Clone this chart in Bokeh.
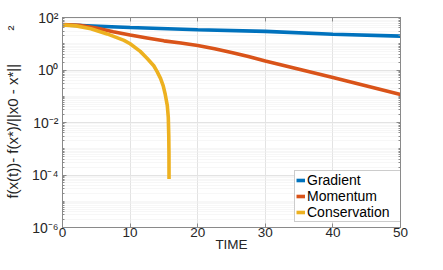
import math
from bokeh.plotting import figure
from bokeh.models import (FixedTicker, LinearAxis, LogAxis, CustomJSTickFormatter,
                          Legend, LegendItem)
from bokeh.embed import file_html
from bokeh.resources import INLINE

# ---- data ----
t_grad = [0, 10, 20, 30, 40, 50]
v_grad = [52.5, 41.7, 34.3, 29.5, 23.1, 19.5]

t_mom = [0, 2.5, 5, 7.5, 10, 12.5, 15, 17.5, 20, 22.5, 25, 27.5, 30, 35, 40, 45, 50]
v_mom = [53.7, 50.1, 39.8, 28.8, 21.4, 16.6, 12.9, 10.7, 8.51, 6.46, 4.68, 3.24,
         2.21, 1.07, 0.513, 0.245, 0.117]

t_con = [0, 2, 4.2, 6.6, 9.1, 10, 11.5, 12.5, 13.5, 14, 14.5, 14.9, 15.2, 15.5, 15.65,
         15.72, 15.75, 15.76]
v_con = [52.5, 47.9, 37.2, 23.7, 13.5, 10.0, 5.13, 2.82, 1.45, 0.87, 0.479, 0.25, 0.117,
         0.0447, 0.0158, 0.00316, 0.00063, 7.1e-5]

series_names = ["Gradient", "Momentum", "Conservation"]
series_colors = ["#0072BD", "#D95319", "#EDB120"]

x_ticks = [0, 10, 20, 30, 40, 50]
y_ticks = [1e-6, 1e-4, 1e-2, 1e0, 1e2]
y_minor = [m * 10.0 ** k for k in range(-6, 2) for m in range(1, 10)] + [1e2]

x_label = "TIME"
NB = "\u00a0"
y_label = NB * 5 + "f(x(t))- f(x*)/||x0 - x*||" + NB * 8 + "\u00b2"

FONT = "Liberation Sans"
AX = "#8a8a8a"

p = figure(width=427, height=254, x_range=(0, 50), y_range=(1e-6, 1e2),
           y_axis_type="log", output_backend="svg", toolbar_location=None,
           min_border_left=60, min_border_right=27, min_border_top=17,
           min_border_bottom=20)
p.background_fill_color = "white"
p.border_fill_color = "white"
p.outline_line_color = AX
p.outline_line_width = 1

renderers = []
for t, v, c in zip([t_grad, t_mom, t_con], [v_grad, v_mom, v_con], series_colors):
    r = p.line(t, v, line_color=c, line_width=3.6)
    renderers.append(r)

# axes
p.xaxis.ticker = FixedTicker(ticks=x_ticks)
p.yaxis.ticker = FixedTicker(ticks=y_ticks, minor_ticks=y_minor)
p.yaxis.formatter = CustomJSTickFormatter(code="""
const sup = {'-':'\u207b','0':'\u2070','1':'\u00b9','2':'\u00b2','3':'\u00b3','4':'\u2074','5':'\u2075','6':'\u2076','7':'\u2077','8':'\u2078','9':'\u2079'};
const e = Math.round(Math.log10(tick)).toString();
let s = '';
for (const ch of e) s += sup[ch];
return '10' + s;
""")
for ax in [p.xaxis[0], p.yaxis[0]]:
    ax.axis_line_color = AX
    ax.major_tick_line_color = AX
    ax.minor_tick_line_color = AX
    ax.major_tick_in = 4
    ax.major_tick_out = 0
    ax.minor_tick_in = 2
    ax.minor_tick_out = 0
    ax.major_label_text_font = FONT
    ax.major_label_text_color = "#262626"
    ax.axis_label_text_font = FONT
    ax.axis_label_text_font_style = "normal"
    ax.axis_label_text_color = "#262626"
p.xaxis.major_label_text_font_size = "13.5px"
p.yaxis.major_label_text_font_size = "14px"
p.xaxis.major_label_standoff = 0
p.yaxis.major_label_standoff = 4
p.xaxis.axis_label = x_label
p.xaxis.axis_label_text_font_size = "13.5px"
p.xaxis.axis_label_standoff = -3
p.yaxis.axis_label = y_label
p.yaxis.axis_label_text_font_size = "15px"
p.yaxis.axis_label_standoff = 8

top = LinearAxis(ticker=FixedTicker(ticks=x_ticks), major_label_text_font_size="1px",
                 major_label_text_color=None, major_label_standoff=0,
                 formatter=CustomJSTickFormatter(code="return ' ';"),
                 axis_line_color=AX, major_tick_line_color=AX, major_tick_in=4,
                 major_tick_out=0, minor_tick_line_color=None)
p.add_layout(top, "above")
right = LogAxis(ticker=FixedTicker(ticks=y_ticks, minor_ticks=y_minor),
                major_label_text_font_size="1px", major_label_text_color=None,
                major_label_standoff=0,
                formatter=CustomJSTickFormatter(code="return ' ';"),
                axis_line_color=AX,
                major_tick_line_color=AX, major_tick_in=4, major_tick_out=0,
                minor_tick_line_color=AX, minor_tick_in=2, minor_tick_out=0)
p.add_layout(right, "right")

# grids
p.xgrid.grid_line_color = "#e3e3e3"
p.ygrid.grid_line_color = "#e3e3e3"
p.ygrid.minor_grid_line_color = "#efefef"
p.ygrid.minor_grid_line_dash = "1 1"
p.xgrid.minor_grid_line_color = None

legend = Legend(items=[LegendItem(label=n, renderers=[r]) for n, r in zip(series_names, renderers)],
                location=(232, 5), label_text_font=FONT, label_text_font_size="14px",
                label_text_color="#000000", glyph_width=9, glyph_height=14,
                label_height=14, label_width=92, label_standoff=2, spacing=0,
                padding=1, margin=0,
                border_line_color="#999999", border_line_width=1,
                background_fill_color="white", background_fill_alpha=1)
p.add_layout(legend, "center")

open("out.html", "w").write(file_html(p, INLINE))
